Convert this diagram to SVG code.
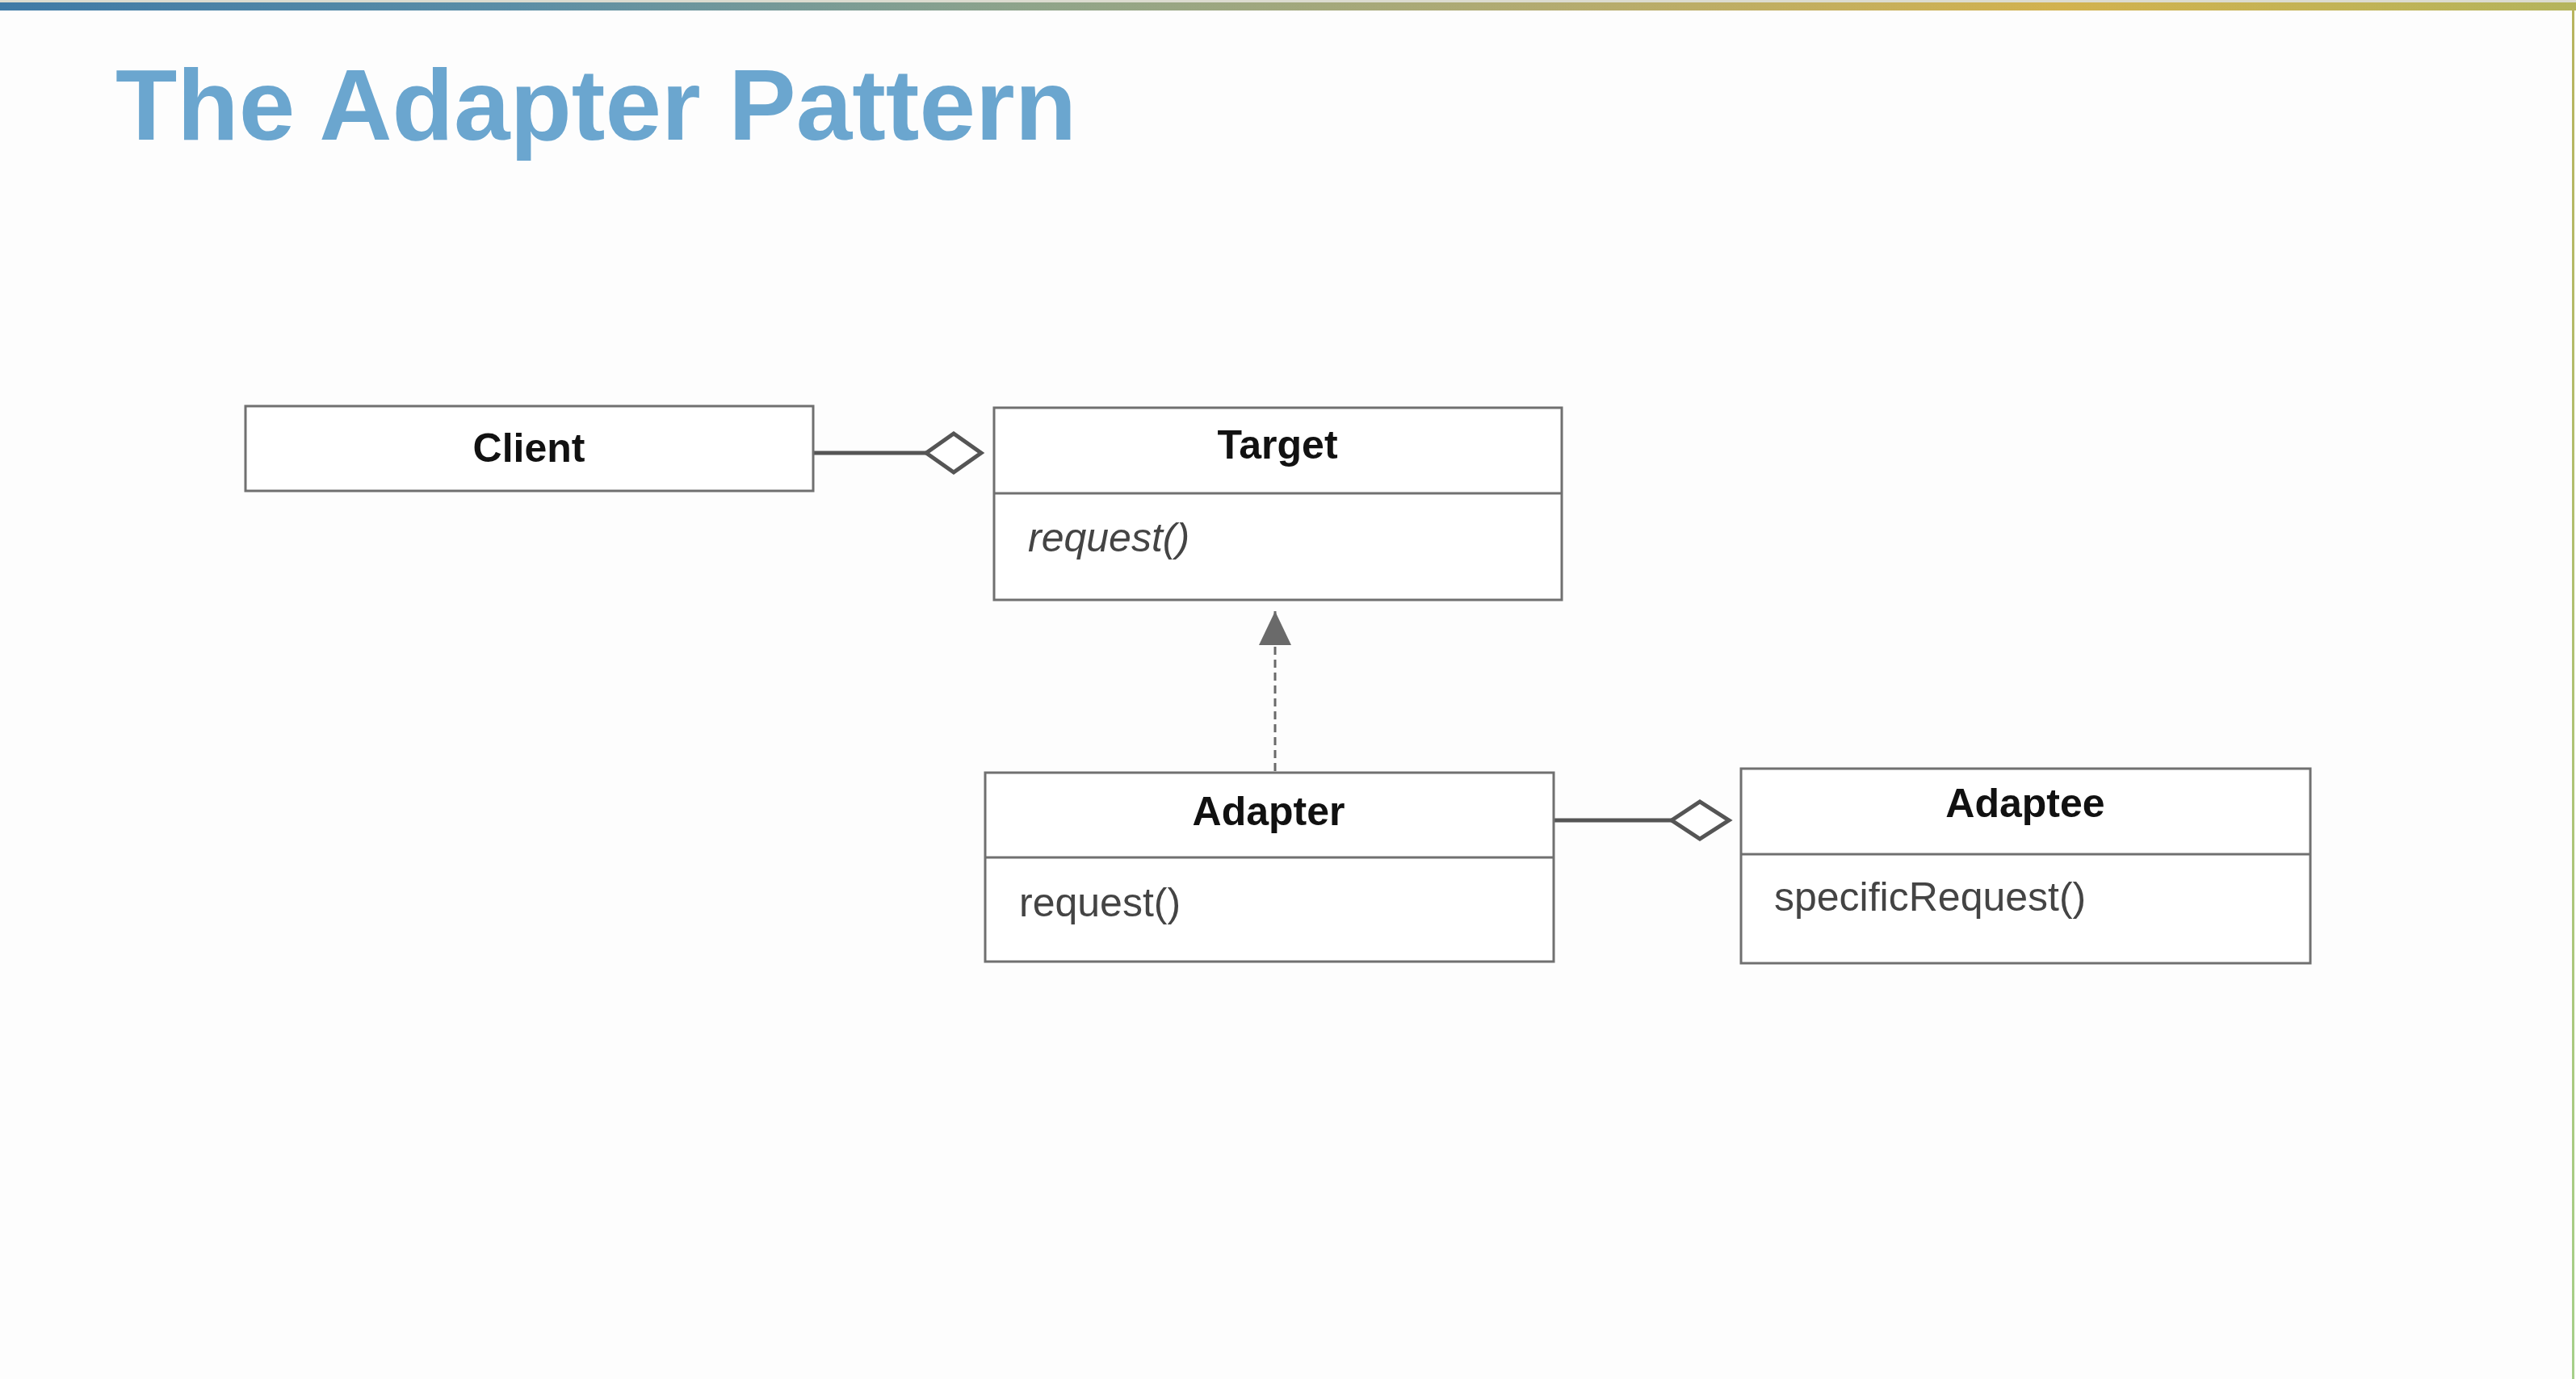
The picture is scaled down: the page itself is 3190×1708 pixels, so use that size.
<svg xmlns="http://www.w3.org/2000/svg" width="3190" height="1708" viewBox="0 0 3190 1708">
<defs>
<linearGradient id="topbar" x1="0" y1="0" x2="1" y2="0">
<stop offset="0" stop-color="#3f7aa6"/>
<stop offset="0.2" stop-color="#5b8ea6"/>
<stop offset="0.4" stop-color="#8fa48a"/>
<stop offset="0.6" stop-color="#b3ab70"/>
<stop offset="0.8" stop-color="#d2b24e"/>
<stop offset="1" stop-color="#b4b45c"/>
</linearGradient>
<linearGradient id="rightbar" x1="0" y1="0" x2="0" y2="1">
<stop offset="0" stop-color="#b8b45e"/>
<stop offset="1" stop-color="#a6d08a"/>
</linearGradient>
<marker id="tri" markerWidth="44" markerHeight="40" refX="42" refY="20" orient="auto" markerUnits="userSpaceOnUse">
<path d="M0,0 L42,20 L0,40 Z" fill="#6a6a6a"/>
</marker>
<style>
.box{fill:#ffffff;stroke:#707070;stroke-width:3}
.div{stroke:#707070;stroke-width:3}
.name{font-family:"Liberation Sans",Arial,sans-serif;font-weight:bold;font-size:50px;fill:#111;text-anchor:middle}
.op{font-family:"Liberation Sans",Arial,sans-serif;font-size:50px;fill:#444}
.assoc{stroke:#555;stroke-width:5;fill:none}
.diamond{fill:#ffffff;stroke:#555;stroke-width:5}
.dep{stroke:#6a6a6a;stroke-width:3;stroke-dasharray:10 6;fill:none}
</style>
</defs>
<rect x="0" y="0" width="3190" height="1708" fill="#fdfdfd"/>
<rect x="0" y="0" width="3190" height="4" fill="#dcdcd0"/>
<rect x="0" y="3" width="3190" height="10" fill="url(#topbar)"/>
<rect x="3185" y="10" width="3" height="1698" fill="url(#rightbar)"/>
<text x="143" y="173" font-family="'Liberation Sans',Arial,sans-serif" font-weight="bold" font-size="125" fill="#6ba6cf">The Adapter Pattern</text>

<g id="connectors">
<line class="assoc" x1="1007" y1="561" x2="1147" y2="561"/>
<polygon class="diamond" points="1147,561 1181,537 1215,561 1181,585"/>
<line class="dep" x1="1579" y1="955" x2="1579" y2="757" marker-end="url(#tri)"/>
<line class="assoc" x1="1925" y1="1016" x2="2070" y2="1016"/>
<polygon class="diamond" points="2070,1016 2105,993 2141,1016 2105,1039"/>
</g>

<g id="client">
<rect class="box" x="304" y="503" width="703" height="105"/>
<text class="name" x="655" y="572">Client</text>
</g>

<g id="target">
<rect class="box" x="1231" y="505" width="703" height="238"/>
<line class="div" x1="1231" y1="611" x2="1934" y2="611"/>
<text class="name" x="1582" y="568">Target</text>
<text class="op" x="1273" y="683" font-style="italic">request()</text>
</g>

<g id="adapter">
<rect class="box" x="1220" y="957" width="704" height="234"/>
<line class="div" x1="1220" y1="1062" x2="1924" y2="1062"/>
<text class="name" x="1571" y="1022">Adapter</text>
<text class="op" x="1262" y="1135">request()</text>
</g>

<g id="adaptee">
<rect class="box" x="2156" y="952" width="705" height="241"/>
<line class="div" x1="2156" y1="1058" x2="2861" y2="1058"/>
<text class="name" x="2508" y="1012">Adaptee</text>
<text class="op" x="2197" y="1128">specificRequest()</text>
</g>
</svg>
